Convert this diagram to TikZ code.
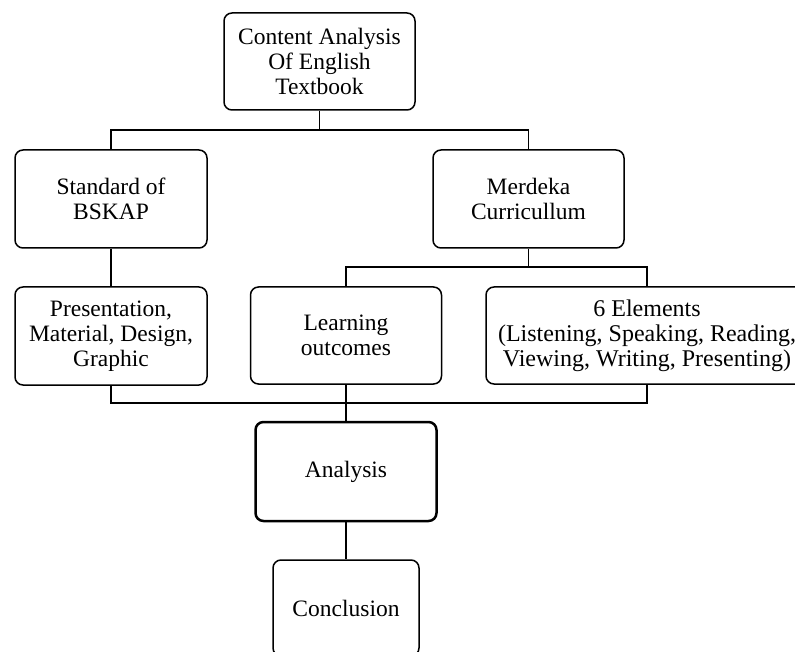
\documentclass[tikz,border=0pt]{standalone}
\usepackage{fontspec}
\setmainfont{Liberation Serif}
\begin{document}
\begin{tikzpicture}[x=1pt,y=-1pt,
  box/.style={draw, rounded corners=8pt, line width=1.5pt, align=center,
    inner sep=0pt, font=\fontsize{23.5}{25}\selectfont, anchor=center},
  link/.style={line width=1.3pt}]
\useasboundingbox (0,0) rectangle (795,652);
\node[box, minimum width=191pt, minimum height=97pt] (top) at (319.5,61.5) {Content Analysis\\Of English\\Textbook};
\node[box, minimum width=192pt, minimum height=98pt] (std) at (111,199) {Standard of\\BSKAP};
\node[box, minimum width=191pt, minimum height=98pt] (mer) at (528.5,199) {Merdeka\\Curricullum};
\node[box, minimum width=192pt, minimum height=98pt] (pres) at (111,336) {Presentation,\\Material, Design,\\Graphic};
\node[box, minimum width=191pt, minimum height=97pt] (learn) at (346,335.5) {Learning\\outcomes};
\node[box, font=\fontsize{24}{25}\selectfont, minimum width=322pt, minimum height=97pt] (elem) at (647,335.5) {6 Elements\\(Listening, Speaking, Reading,\\Viewing, Writing, Presenting)};
\node[box, line width=2.5pt, minimum width=181pt, minimum height=99pt] (ana) at (346,471.5) {Analysis};
\node[box, minimum width=146pt, minimum height=96pt] (conc) at (346,608) {Conclusion};
\coordinate (j1) at (319.5,130);
\coordinate (j2) at (528.5,267);
\coordinate (j3) at (346,403);
\draw[link] (top.south) -- (j1);
\draw[link] (j1) -| (std.north);
\draw[link] (j1) -| (mer.north);
\draw[link] (std.south) -- (pres.north);
\draw[link] (mer.south) -- (j2);
\draw[link] (j2) -| (learn.north);
\draw[link] (j2) -| (elem.north);
\draw[link] (pres.south) |- (j3);
\draw[link] (elem.south) |- (j3);
\draw[link] (learn.south) -- (j3);
\draw[link] (j3) -- (ana.north);
\draw[link] (ana.south) -- (conc.north);
\end{tikzpicture}
\end{document}
